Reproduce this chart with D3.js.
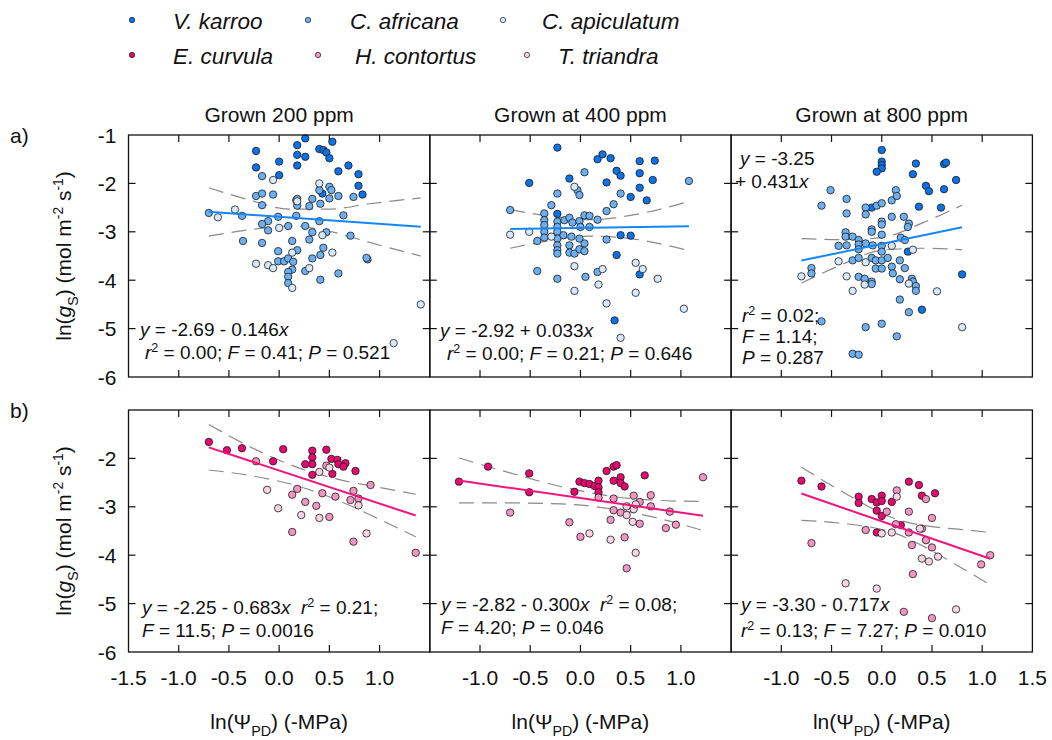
<!DOCTYPE html>
<html>
<head>
<meta charset="utf-8">
<script src="https://cdn.jsdelivr.net/npm/d3@7"></script>
<style>
body { margin: 0; background: #fff; }
text { font-family: "Liberation Sans", Arial, Helvetica, sans-serif; fill: #111; white-space: pre; }
</style>
</head>
<body>
<svg id="chart" width="1052" height="740"></svg>
<script>
// ---- data ----
var species = ["V. karroo", "C. africana", "C. apiculatum", "E. curvula", "H. contortus", "T. triandra"];
var speciesColor = ["#0b72e7", "#6cb0f2", "#d6e8fa", "#e8076f", "#f295c1", "#fbd3e4"];
var panelTitles = ["Grown 200 ppm", "Grown at 400 ppm", "Grown at 800 ppm"];
var xLabelTicks = [[-1.5, -1, -0.5, 0, 0.5, 1], [-1, -0.5, 0, 0.5, 1], [-1, -0.5, 0, 0.5, 1, 1.5]];
var yLabelTicks = [[-1, -2, -3, -4, -5, -6], [-2, -3, -4, -5, -6]];

// a) woody species
var a200_vk = [[-0.23,-1.33],[0.26,-1.07],[0.18,-1.21],[0.53,-1.14],[0.18,-1.41],[0.26,-1.45],[0.40,-1.29],[0.44,-1.31],[0.47,-1.36],[0.50,-1.48],[0.00,-1.55],[-0.23,-1.67],[0.00,-1.83],[0.18,-1.63],[0.59,-1.75],[0.69,-1.63],[0.79,-1.81],[0.79,-2.05],[0.83,-2.23],[0.43,-2.21]];
var a200_ca = [[-0.17,-1.85],[-0.23,-2.26],[-0.17,-2.21],[-0.06,-2.23],[-0.17,-2.45],[0.17,-2.35],[0.18,-2.46],[0.30,-2.47],[0.33,-2.32],[0.41,-2.42],[0.40,-2.14],[0.50,-2.07],[0.52,-2.14],[0.50,-2.31],[0.59,-2.26],[0.74,-2.28],[0.64,-2.66],[-0.70,-2.61],[-0.37,-2.67],[-0.01,-2.69],[0.17,-2.67],[-0.11,-2.78],[-0.17,-2.84],[-0.11,-2.97],[0.09,-2.88],[0.26,-2.88],[0.40,-2.78],[0.33,-3.01],[0.30,-3.16],[0.47,-3.01],[0.71,-3.08],[-0.36,-3.19],[-0.17,-3.23],[0.13,-3.19],[0.18,-3.38],[-0.01,-3.40],[-0.01,-3.61],[0.05,-3.61],[0.09,-3.55],[0.14,-3.62],[0.41,-3.48],[0.44,-3.33],[0.33,-3.55],[0.59,-3.86],[0.13,-3.78],[0.09,-3.83],[0.09,-3.93],[0.09,-4.06],[0.26,-3.81],[0.41,-3.99],[0.88,-3.57],[0.87,-3.54],[0.18,-2.32]];
var a200_cp = [[-0.06,-1.93],[0.40,-2.00],[0.18,-2.37],[-0.44,-2.54],[-0.61,-2.70],[0.00,-2.92],[0.43,-3.07],[0.13,-3.43],[-0.23,-3.66],[-0.11,-3.69],[-0.06,-3.75],[0.30,-3.75],[0.53,-3.43],[0.13,-4.16],[1.41,-4.50],[1.14,-5.30]];

var a400_vk = [[-0.23,-1.26],[-0.51,-1.99],[-0.11,-1.90],[0.17,-1.50],[0.22,-1.40],[0.30,-1.48],[0.36,-1.74],[0.40,-1.84],[0.26,-1.98],[0.59,-1.54],[0.74,-1.53],[0.59,-1.79],[0.72,-1.93],[0.59,-2.09],[0.50,-2.28],[0.66,-2.35],[-0.23,-2.63],[0.40,-3.07],[0.50,-3.08],[0.36,-3.48],[0.59,-3.88],[0.34,-4.83]];
var a400_ca = [[0.04,-1.77],[0.40,-2.21],[0.33,-2.43],[0.26,-2.57],[-0.03,-2.14],[-0.01,-2.24],[-0.23,-2.21],[-0.29,-2.45],[-0.70,-2.55],[-0.36,-2.62],[-0.36,-2.76],[-0.36,-2.86],[-0.36,-3.00],[-0.36,-3.12],[-0.23,-2.79],[-0.23,-2.90],[-0.23,-3.00],[-0.16,-2.76],[-0.11,-2.71],[-0.08,-2.81],[-0.01,-2.78],[0.00,-2.90],[0.04,-2.66],[0.09,-2.67],[0.09,-2.90],[0.17,-2.75],[-0.43,-3.19],[-0.23,-3.14],[-0.17,-3.07],[-0.09,-3.10],[-0.23,-3.28],[-0.23,-3.38],[-0.23,-3.45],[-0.11,-3.28],[-0.11,-3.43],[-0.06,-3.45],[-0.01,-3.36],[0.04,-3.24],[-0.01,-3.14],[0.04,-3.40],[0.26,-3.16],[-0.43,-3.81],[-0.23,-3.97],[0.05,-3.93],[0.17,-3.83],[1.08,-1.95]];
var a400_cp = [[-0.06,-2.07],[-0.70,-3.06],[-0.51,-3.00],[-0.29,-3.10],[-0.06,-3.71],[0.22,-3.77],[0.18,-4.09],[0.55,-3.64],[0.62,-3.77],[0.77,-3.97],[-0.06,-4.22],[0.26,-4.48],[0.40,-5.19],[0.55,-4.26],[1.03,-4.59]];

var a800_vk = [[0.00,-1.31],[0.00,-1.55],[0.00,-1.62],[0.00,-1.69],[-0.05,-1.76],[0.34,-1.59],[0.62,-1.60],[0.64,-1.57],[0.31,-1.81],[0.44,-2.05],[0.47,-2.16],[0.74,-1.93],[0.62,-2.12],[0.37,-2.48],[0.59,-2.50],[-0.10,-2.50],[0.80,-3.88],[0.40,-4.61],[0.26,-3.41]];
var a800_ca = [[-0.51,-2.14],[-0.60,-2.46],[-0.35,-2.32],[-0.35,-2.62],[-0.16,-2.50],[-0.16,-2.64],[-0.05,-2.46],[0.00,-2.41],[0.00,-2.79],[0.00,-2.85],[0.10,-2.35],[0.14,-2.14],[0.15,-2.26],[0.10,-2.69],[0.22,-2.69],[0.27,-2.83],[0.26,-2.90],[-0.36,-3.01],[-0.36,-3.10],[-0.29,-3.10],[-0.23,-3.17],[-0.23,-3.26],[-0.10,-2.95],[-0.10,-3.00],[0.00,-3.06],[0.19,-3.12],[0.23,-3.17],[-0.43,-3.29],[-0.35,-3.28],[-0.16,-3.24],[-0.09,-3.28],[0.00,-3.29],[-0.23,-3.36],[0.00,-3.41],[-0.70,-3.75],[-0.70,-3.86],[-0.29,-3.59],[-0.23,-3.54],[-0.10,-3.54],[-0.06,-3.59],[0.00,-3.59],[0.06,-3.54],[-0.06,-3.76],[0.00,-3.76],[0.10,-3.72],[0.11,-3.86],[0.18,-3.59],[0.23,-3.75],[-0.23,-3.93],[-0.17,-3.97],[-0.10,-4.03],[-0.10,-4.08],[0.18,-3.98],[0.30,-3.97],[0.31,-4.03],[0.34,-4.12],[0.34,-4.22],[0.18,-4.40],[0.27,-4.66],[-0.16,-4.97],[0.00,-4.90],[0.15,-5.16],[-0.29,-5.52],[-0.23,-5.54],[-0.60,-4.85]];
var a800_cp = [[-0.80,-3.92],[-0.43,-3.61],[-0.35,-3.92],[-0.16,-3.63],[-0.17,-4.09],[-0.29,-4.22],[0.10,-3.29],[0.31,-3.37],[0.27,-4.07],[0.55,-4.23],[0.80,-4.97]];

// b) grasses
var b200_ec = [[-0.70,-1.66],[-0.52,-1.83],[-0.37,-1.79],[-0.06,-2.06],[0.04,-1.81],[0.26,-2.12],[0.33,-1.84],[0.33,-1.98],[0.33,-2.12],[0.47,-1.82],[0.52,-2.01],[0.58,-2.03],[0.59,-2.12],[0.66,-2.10],[0.64,-2.17],[0.53,-2.32],[0.33,-2.34],[0.76,-2.26]];
var b200_hc = [[-0.23,-2.06],[0.47,-2.15],[0.18,-2.63],[0.13,-2.75],[0.26,-2.90],[0.37,-2.98],[0.43,-2.72],[0.56,-2.79],[0.74,-2.67],[0.71,-2.86],[0.79,-2.83],[0.91,-2.55],[0.50,-3.21],[0.13,-3.52],[0.74,-3.72],[1.36,-3.95]];
var b200_tt = [[0.40,-2.28],[0.50,-2.19],[-0.12,-2.65],[-0.01,-3.03],[0.22,-3.17],[0.40,-3.23],[0.79,-2.97],[0.87,-3.55]];

var b400_ec = [[-1.21,-2.48],[-0.92,-2.17],[-0.51,-2.31],[-0.51,-2.70],[-0.06,-2.69],[-0.01,-2.48],[0.04,-2.51],[0.09,-2.53],[0.14,-2.57],[0.18,-2.46],[0.18,-2.60],[0.18,-2.70],[0.26,-2.26],[0.33,-2.17],[0.36,-2.14],[0.33,-2.46],[0.40,-2.39],[0.40,-2.51],[0.44,-2.58],[0.64,-2.35]];
var b400_hc = [[-0.70,-3.12],[-0.11,-3.32],[0.00,-3.62],[0.18,-2.81],[0.30,-3.27],[0.33,-2.83],[0.33,-3.07],[0.40,-3.12],[0.44,-3.63],[0.46,-4.27],[0.53,-2.77],[0.59,-2.90],[0.70,-2.76],[0.70,-2.99],[0.89,-3.10],[0.85,-3.44],[0.95,-3.37],[1.22,-2.39],[0.59,-3.35]];
var b400_tt = [[0.09,-3.55],[0.30,-3.68],[0.46,-3.17],[0.46,-2.99],[0.53,-3.05],[0.55,-2.95],[0.55,-3.95],[0.52,-3.31]];

var b800_ec = [[-0.80,-2.46],[-0.60,-2.58],[-0.23,-2.79],[-0.23,-2.92],[-0.10,-2.84],[-0.05,-2.91],[0.00,-2.77],[0.00,-2.88],[-0.05,-3.08],[0.00,-3.19],[0.10,-2.90],[0.19,-3.38],[0.27,-2.48],[0.37,-2.55],[0.40,-2.77],[0.53,-2.72],[-0.05,-3.53]];
var b800_hc = [[-0.70,-3.75],[-0.16,-3.48],[0.05,-3.10],[0.15,-2.66],[0.14,-3.36],[0.27,-3.10],[0.27,-3.53],[0.30,-3.79],[0.40,-3.45],[0.44,-3.69],[0.44,-2.84],[0.50,-3.84],[0.50,-3.23],[0.99,-4.19],[1.08,-4.00],[0.31,-4.39],[0.22,-5.17],[0.50,-5.30]];
var b800_tt = [[0.15,-2.79],[0.00,-3.55],[0.10,-3.53],[0.38,-3.45],[0.40,-4.07],[0.47,-4.13],[0.56,-4.03],[-0.36,-4.58],[-0.05,-4.69],[0.74,-5.12]];

// fitted lines (from the printed equations) and their x extents
var fitIntercept = [-2.69, -2.92, -3.25, -2.25, -2.82, -3.30];
var fitSlope = [-0.146, 0.033, 0.431, -0.683, -0.300, -0.717];
var fitRange = [[-0.70, 1.41], [-0.70, 1.08], [-0.80, 0.80], [-0.70, 1.36], [-1.21, 1.22], [-0.80, 1.08]];

// confidence bands: [x, upper, lower]
var ci_a200 = [[-0.70,-2.09,-3.09],[-0.30,-2.34,-2.96],[0.10,-2.53,-2.88],[0.50,-2.53,-2.99],[0.90,-2.42,-3.22],[1.41,-2.30,-3.50]];
var ci_a400 = [[-0.70,-2.54,-3.34],[-0.30,-2.68,-3.18],[0.10,-2.75,-3.09],[0.50,-2.66,-3.14],[0.80,-2.53,-3.25],[1.08,-2.37,-3.39]];
var ci_a800 = [[-0.80,-3.14,-4.06],[-0.40,-3.16,-3.68],[0.00,-3.12,-3.38],[0.40,-2.82,-3.34],[0.80,-2.45,-3.37]];
var ci_b200 = [[-0.70,-1.30,-2.24],[-0.30,-1.75,-2.35],[0.20,-2.20,-2.58],[0.60,-2.44,-2.88],[1.00,-2.60,-3.26],[1.36,-2.74,-3.62]];
var ci_b400 = [[-1.21,-1.99,-2.92],[-0.70,-2.30,-2.92],[-0.20,-2.58,-2.94],[0.30,-2.78,-3.04],[0.80,-2.87,-3.25],[1.22,-2.89,-3.49]];
var ci_b800 = [[-0.80,-2.18,-3.28],[-0.40,-2.68,-3.34],[0.15,-3.26,-3.56],[0.50,-3.41,-3.91],[0.80,-3.47,-4.27],[1.08,-3.53,-4.61]];

// statistics printed in each panel ([text, style] pieces per line)
var statText = [
  [[["y","i"],[" = -2.69 - 0.146"],["x","i"]],
   [["r","i"],["2","sup"],[" = 0.00; "],["F","i"],[" = 0.41; "],["P","i"],[" = 0.521"]]],
  [[["y","i"],[" = -2.92 + 0.033"],["x","i"]],
   [["r","i"],["2","sup"],[" = 0.00; "],["F","i"],[" = 0.21; "],["P","i"],[" = 0.646"]]],
  [[["y","i"],[" = -3.25"]],
   [["+ 0.431"],["x","i"]],
   [["r","i"],["2","sup"],[" = 0.02;"]],
   [["F","i"],[" = 1.14;"]],
   [["P","i"],[" = 0.287"]]],
  [[["y","i"],[" = -2.25 - 0.683"],["x","i"],["  "],["r","i"],["2","sup"],[" = 0.21;"]],
   [["F","i"],[" = 11.5; "],["P","i"],[" = 0.0016"]]],
  [[["y","i"],[" = -2.82 - 0.300"],["x","i"],["  "],["r","i"],["2","sup"],[" = 0.08;"]],
   [["F","i"],[" = 4.20; "],["P","i"],[" = 0.046"]]],
  [[["y","i"],[" = -3.30 - 0.717"],["x","i"]],
   [["r","i"],["2","sup"],[" = 0.13; "],["F","i"],[" = 7.27; "],["P","i"],[" = 0.010"]]]
];

// ---- layout ----
var W = 1052, H = 740;
var panelLeft = [128.5, 429.8, 731.1], panelW = 301.3;
var rowTop = [135, 410], panelH = 242;
var tickLen = 7;

var svg = d3.select("#chart");
svg.append("rect").attr("width", W).attr("height", H).attr("fill", "#fff");

// writes pieces with italic / sub / superscript into a text element
function rich(t, parts, fs) {
    var off = 0;
    parts.forEach(function(p) {
        var st = p[1] || "";
        var shift = 0, size = fs;
        if (st === "sub") { shift = fs * 0.32; size = fs * 0.68; }
        if (st === "sup") { shift = -fs * 0.38; size = fs * 0.66; }
        var ts = t.append("tspan").text(p[0])
            .attr("font-size", size)
            .attr("dy", shift - off);
        if (st === "i") ts.style("font-style", "italic");
        off = shift;
    });
    return t;
}

var panels = [
    {row: 0, col: 0, sets: [a200_vk, a200_ca, a200_cp], sp: [0, 1, 2], ci: ci_a200, line: "#1587f5"},
    {row: 0, col: 1, sets: [a400_vk, a400_ca, a400_cp], sp: [0, 1, 2], ci: ci_a400, line: "#1587f5"},
    {row: 0, col: 2, sets: [a800_vk, a800_ca, a800_cp], sp: [0, 1, 2], ci: ci_a800, line: "#1587f5"},
    {row: 1, col: 0, sets: [b200_ec, b200_hc, b200_tt], sp: [3, 4, 5], ci: ci_b200, line: "#f0157c"},
    {row: 1, col: 1, sets: [b400_ec, b400_hc, b400_tt], sp: [3, 4, 5], ci: ci_b400, line: "#f0157c"},
    {row: 1, col: 2, sets: [b800_ec, b800_hc, b800_tt], sp: [3, 4, 5], ci: ci_b800, line: "#f0157c"}
];

// where the statistics text sits (x, baseline) in each panel
var statPos = [
    [[140, 336], [145, 359]],
    [[440, 337], [447, 360]],
    [[740, 165], [735, 188], [742, 322], [742, 343], [742, 364]],
    [[142, 614], [142, 637]],
    [[441, 611], [441, 634]],
    [[741, 611], [741, 637]]
];

panels.forEach(function(p, i) {
    var x0 = panelLeft[p.col], y0 = rowTop[p.row];
    var x = d3.scaleLinear().domain([-1.5, 1.5]).range([x0, x0 + panelW]);
    var y = d3.scaleLinear().domain([-6, -1]).range([y0 + panelH, y0]);
    var g = svg.append("g");

    // inward ticks on all four sides
    var xt = [-1, -0.5, 0, 0.5, 1], yt = [-2, -3, -4, -5];
    var tk = g.append("g").attr("stroke", "#111").attr("stroke-width", 1.2);
    xt.forEach(function(v) {
        tk.append("line").attr("x1", x(v)).attr("x2", x(v)).attr("y1", y0 + panelH).attr("y2", y0 + panelH - tickLen);
        tk.append("line").attr("x1", x(v)).attr("x2", x(v)).attr("y1", y0).attr("y2", y0 + tickLen);
    });
    yt.forEach(function(v) {
        tk.append("line").attr("x1", x0).attr("x2", x0 + tickLen).attr("y1", y(v)).attr("y2", y(v));
        tk.append("line").attr("x1", x0 + panelW).attr("x2", x0 + panelW - tickLen).attr("y1", y(v)).attr("y2", y(v));
    });

    // confidence band edges
    var up = d3.line().x(function(d) { return x(d[0]); }).y(function(d) { return y(d[1]); }).curve(d3.curveMonotoneX);
    var lo = d3.line().x(function(d) { return x(d[0]); }).y(function(d) { return y(d[2]); }).curve(d3.curveMonotoneX);
    [up, lo].forEach(function(ln) {
        g.append("path").attr("d", ln(p.ci)).attr("fill", "none")
            .attr("stroke", "#8a8a8a").attr("stroke-width", 1.2)
            .attr("stroke-dasharray", "15,8");
    });

    // points
    p.sets.forEach(function(set, k) {
        g.append("g").selectAll("circle").data(set).enter().append("circle")
            .attr("cx", function(d) { return x(d[0]); })
            .attr("cy", function(d) { return y(d[1]); })
            .attr("r", 3.7)
            .attr("fill", speciesColor[p.sp[k]])
            .attr("stroke", "#1a1a1a")
            .attr("stroke-width", 0.8);
    });

    // regression line
    var fr = fitRange[i];
    g.append("line")
        .attr("x1", x(fr[0])).attr("y1", y(fitIntercept[i] + fitSlope[i] * fr[0]))
        .attr("x2", x(fr[1])).attr("y2", y(fitIntercept[i] + fitSlope[i] * fr[1]))
        .attr("stroke", p.line).attr("stroke-width", 2);

    // frame
    g.append("rect").attr("x", x0).attr("y", y0).attr("width", panelW).attr("height", panelH)
        .attr("fill", "none").attr("stroke", "#111").attr("stroke-width", 1.3);

    // stats
    statText[i].forEach(function(line, j) {
        var t = g.append("text").attr("x", statPos[i][j][0]).attr("y", statPos[i][j][1]).attr("font-size", 19);
        rich(t, line, 19);
    });

    // x tick labels under the lower row
    if (p.row === 1) {
        xLabelTicks[p.col].forEach(function(v) {
            g.append("text").attr("x", x(v)).attr("y", y0 + panelH + 33)
                .attr("text-anchor", "middle").attr("font-size", 21).text(v.toFixed(1));
        });
        var xt2 = g.append("text").attr("x", x0 + panelW / 2).attr("y", 729)
            .attr("text-anchor", "middle").attr("font-size", 21);
        rich(xt2, [["ln(\u03a8"], ["PD", "sub"], [") (-MPa)"]], 21);
    }
    // y tick labels on the left column
    if (p.col === 0) {
        yLabelTicks[p.row].forEach(function(v) {
            g.append("text").attr("x", x0 - 12).attr("y", y(v) + 7.5)
                .attr("text-anchor", "end").attr("font-size", 21).text(String(v));
        });
        var yt2 = g.append("text")
            .attr("transform", "translate(71," + (y0 + panelH / 2) + ") rotate(-90)")
            .attr("text-anchor", "middle").attr("font-size", 21);
        rich(yt2, [["ln("], ["g", "i"], ["S", "sub"], [") (mol m"], ["-2", "sup"], [" s"], ["-1", "sup"], [")"]], 21);
        g.append("text").attr("x", 10).attr("y", y0 + 8).attr("font-size", 21)
            .text(p.row === 0 ? "a)" : "b)");
    }
    // column titles
    if (p.row === 0) {
        g.append("text").attr("x", x0 + panelW / 2).attr("y", 122)
            .attr("text-anchor", "middle").attr("font-size", 21).text(panelTitles[p.col]);
    }
});

// legend
var legPos = [[132, 20], [308, 20], [503, 20], [132, 55], [318, 55], [527, 55]];
var legText = [173, 350, 542, 173, 355, 558];
var leg = svg.append("g");
species.forEach(function(s, k) {
    leg.append("circle").attr("cx", legPos[k][0]).attr("cy", legPos[k][1]).attr("r", 2.7)
        .attr("fill", speciesColor[k]).attr("stroke", "#1a1a1a").attr("stroke-width", 0.7);
    leg.append("text").attr("x", legText[k]).attr("y", legPos[k][1] + 8.5)
        .attr("font-size", 22.5).style("font-style", "italic").text(s);
});
</script>
</body>
</html>
